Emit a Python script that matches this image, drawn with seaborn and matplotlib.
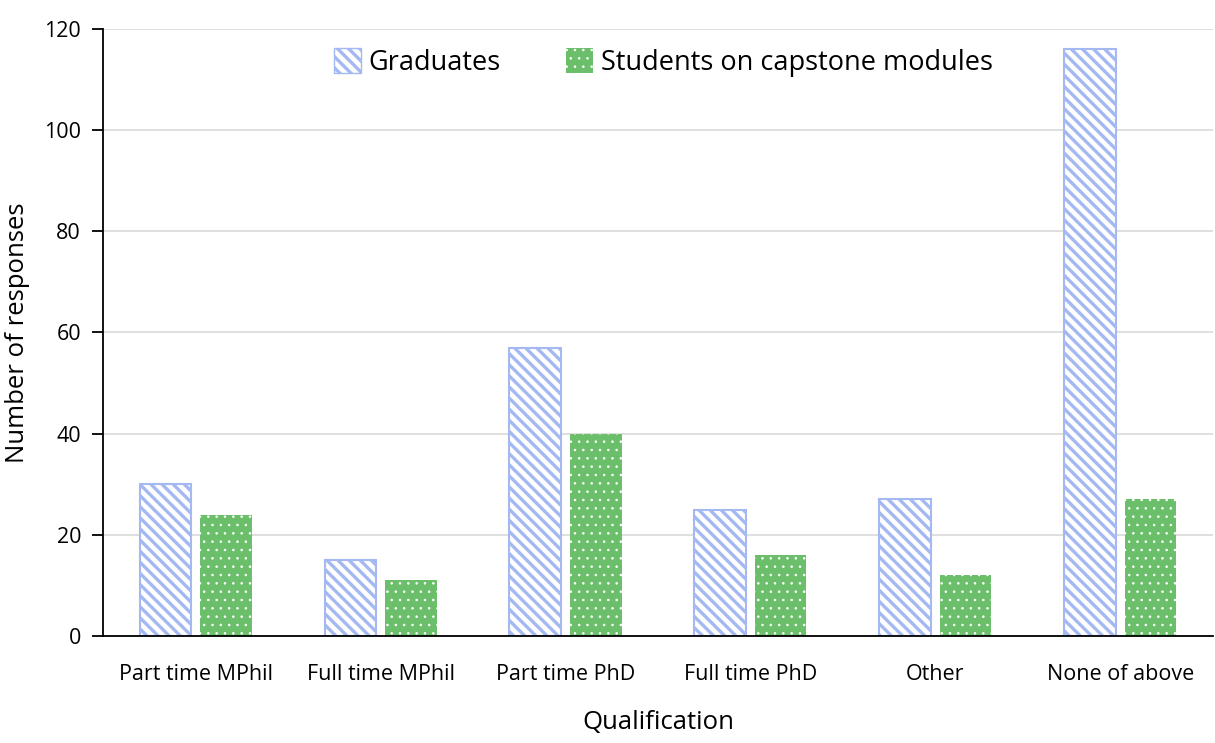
import pandas as pd
import matplotlib.pyplot as plt
import seaborn as sns
from matplotlib.patches import Patch

sns.set_style("white")
plt.rcParams["font.family"] = ["Open Sans", "DejaVu Sans"]
plt.rcParams["text.color"] = "black"
plt.rcParams["axes.labelcolor"] = "black"
plt.rcParams["xtick.color"] = "black"
plt.rcParams["ytick.color"] = "black"
plt.rcParams["hatch.linewidth"] = 2.4

# Data
qualifications = ["Part time MPhil", "Full time MPhil", "Part time PhD",
                  "Full time PhD", "Other", "None of above"]
graduates = [30, 15, 57, 25, 27, 116]
students = [24, 11, 40, 16, 12, 27]
groups = ["Graduates", "Students on capstone modules"]

df = pd.DataFrame({
    "Qualification": qualifications * 2,
    "Responses": graduates + students,
    "Group": [groups[0]] * len(qualifications) + [groups[1]] * len(qualifications),
})

blue = "#a4b8f2"
green = "#6bbf6b"

fig = plt.figure(figsize=(12.15, 7.43), dpi=100)
ax = fig.add_axes([0.085, 0.144, 0.913, 0.817])

sns.barplot(data=df, x="Qualification", y="Responses", hue="Group",
            order=qualifications, hue_order=groups, width=0.656, gap=0.15,
            palette=[blue, green], ax=ax, legend=False)


def style_dots(p):
    p.set_facecolor(green)
    p.set_edgecolor("white")
    p.set_linewidth(0)
    p.set_hatch("..")
    if hasattr(p, "set_hatch_linewidth"):
        p.set_hatch_linewidth(0.6)


n = len(qualifications)
for i, p in enumerate(ax.patches[:2 * n]):
    if i < n:
        p.set_facecolor("white")
        p.set_edgecolor(blue)
        p.set_linewidth(1.5)
        p.set_hatch("\\\\\\")
    else:
        style_dots(p)

ax.set_ylim(0, 120)
ax.set_xlim(-0.5, n - 0.5)
ax.set_yticks(range(0, 121, 20))
ax.yaxis.grid(True, color="#d9d9d9", linewidth=1.2)
ax.set_axisbelow(True)
for s in ["top", "right"]:
    ax.spines[s].set_visible(False)
for s in ["left", "bottom"]:
    ax.spines[s].set_color("black")
    ax.spines[s].set_linewidth(1.3)

# category separator ticks
ax.set_xticks([i - 0.5 for i in range(n + 1)], minor=True)
ax.tick_params(axis="x", which="minor", length=8, width=1.3, color="black", direction="out")
ax.tick_params(axis="x", which="major", length=0, pad=20, labelsize=15.5)
ax.tick_params(axis="y", length=8, width=1.3, color="black", direction="out",
               labelsize=15.5, pad=8, left=True)

ax.set_xlabel("Qualification", fontsize=18.5, labelpad=18)
ax.set_ylabel("Number of responses", fontsize=18.5, labelpad=10)

green_handle = Patch(label=groups[1])
style_dots(green_handle)
handles = [Patch(facecolor="white", edgecolor=blue, hatch="\\\\\\", label=groups[0]),
           green_handle]
leg = ax.legend(handles=handles, loc="upper center", bbox_to_anchor=(0.505, 1.008), ncol=2,
                frameon=False, fontsize=19.5, handlelength=1.0, handleheight=1.0,
                handletextpad=0.3, columnspacing=2.4)
for h in leg.get_patches()[1:]:
    if hasattr(h, "set_hatch_linewidth"):
        h.set_hatch_linewidth(0.6)

fig.savefig("out.png", dpi=100)
